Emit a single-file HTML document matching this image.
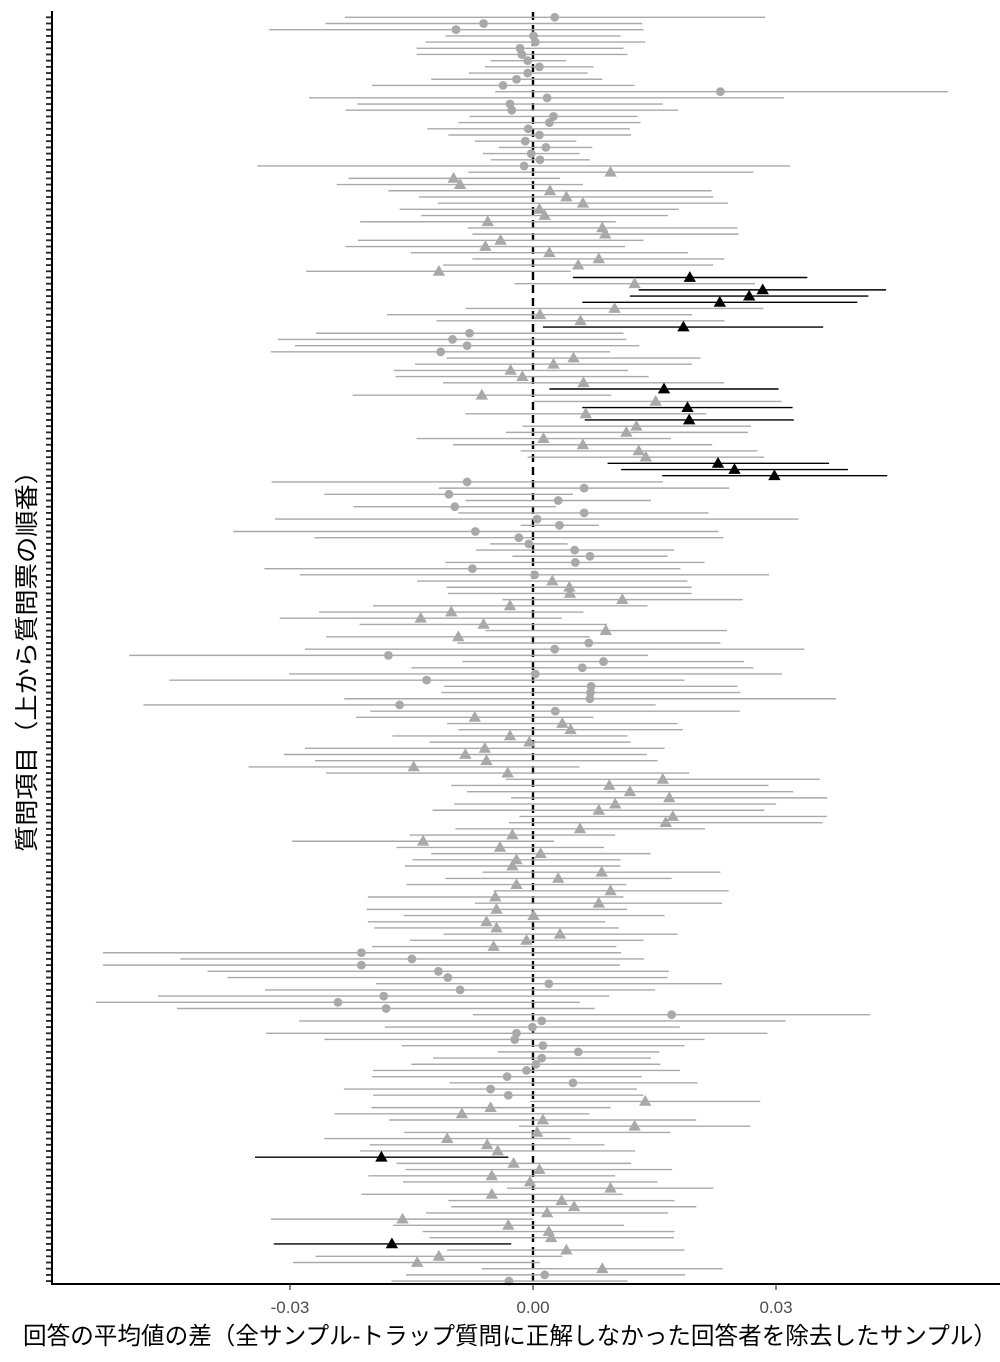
<!DOCTYPE html>
<html><head><meta charset="utf-8">
<style>
html,body{margin:0;padding:0;background:#fff;}
svg{display:block;}
</style></head>
<body>
<svg id="s" width="1000" height="1362" xmlns="http://www.w3.org/2000/svg">
<rect width="1000" height="1362" fill="#fff"/>
<g id="ticks"></g>
<line x1="533" y1="12" x2="533" y2="1284" stroke="#000" stroke-width="2.4" stroke-dasharray="8,5"/>
<g id="bars"></g>
<g id="pts"></g>
<line x1="52" y1="11" x2="52" y2="1285" stroke="#000" stroke-width="2"/>
<line x1="51" y1="1284" x2="1000" y2="1284" stroke="#000" stroke-width="2"/>
<line x1="290" y1="1284" x2="290" y2="1290" stroke="#333" stroke-width="1.2"/>
<line x1="533" y1="1284" x2="533" y2="1290" stroke="#333" stroke-width="1.2"/>
<line x1="776" y1="1284" x2="776" y2="1290" stroke="#333" stroke-width="1.2"/>
<g font-family="'Liberation Sans', sans-serif" font-size="17" fill="#4d4d4d" text-anchor="middle">
<text x="290" y="1313">-0.03</text>
<text x="533" y="1313">0.00</text>
<text x="776" y="1313">0.03</text>
</g>
<text x="510" y="1344" font-family="'Liberation Sans','Noto Sans CJK JP',sans-serif" font-size="24" text-anchor="middle" textLength="974" lengthAdjust="spacingAndGlyphs" fill="#000">回答の平均値の差（全サンプル-トラップ質問に正解しなかった回答者を除去したサンプル）</text>
<text transform="translate(35,655) rotate(-90)" font-family="'Liberation Sans','Noto Sans CJK JP',sans-serif" font-size="24" text-anchor="middle" textLength="394" lengthAdjust="spacingAndGlyphs" fill="#000">質問項目（上から質問票の順番）</text>
</svg>
<script>
var D=[
[519,876,1234,'c'],[486,755,1025,'c'],[390,708,1027,'c'],[690,840,988,'c'],[656,843,1030,'c'],
[641,817,993,'c'],[641,820,1000,'c'],[767,830,895,'c'],[757,850,942,'c'],[730,830,932,'c'],
[666,811,957,'c'],[565,788,1012,'c'],[775,1158,1545,'c'],[458,863,1266,'c'],[540,800,1060,'c'],
[520,803,1086,'c'],[731,874,1017,'c'],[712,867,1022,'c'],[659,831,1004,'c'],[695,850,1006,'c'],
[740,826,913,'c'],[781,861,940,'c'],[754,836,918,'c'],[767,851,936,'c'],[370,824,1277,'c'],
[729,971,1214,'t'],[525,704,885,'t'],[505,715,924,'t'],[593,868,1143,'t'],[645,896,1146,'t'],
[677,924,1171,'t'],[612,850,1087,'t'],[649,859,1069,'t'],[545,762,980,'t'],[728,957,1187,'t'],
[736,962,1189,'t'],[541,784,1027,'t'],[520,758,996,'t'],[631,867,1103,'t'],[736,951,1165,'t'],
[686,916,1146,'t'],[453,679,903,'t'],[907,1106,1306,'T'],[808,1012,1217,'t'],[1019,1230,1440,'T'],
[1004,1207,1410,'T'],[923,1157,1391,'T'],[724,978,1231,'t'],[591,851,1110,'t'],[675,920,1165,'t'],
[856,1095,1333,'T'],[470,731,993,'c'],[405,702,998,'c'],[434,727,1020,'c'],[393,682,970,'c'],
[692,908,1124,'t'],[638,874,1110,'t'],[602,801,1001,'t'],[605,821,1036,'t'],[686,925,1164,'t'],
[867,1062,1257,'T'],[532,752,972,'t'],[840,1048,1262,'t'],[923,1102,1281,'T'],[724,929,1134,'t'],
[927,1105,1283,'T'],[821,1015,1210,'t'],[793,998,1205,'t'],[641,857,1074,'t'],[703,924,1144,'t'],
[818,1019,1221,'t'],[830,1031,1232,'t'],[966,1154,1343,'T'],[989,1182,1375,'T'],[1059,1250,1442,'T'],
[394,727,1060,'c'],[679,926,1173,'c'],[484,696,907,'c'],[724,882,1040,'c'],[534,706,878,'c'],
[712,926,1138,'c'],[400,846,1291,'c'],[818,884,951,'c'],[329,741,1155,'c'],[467,815,1163,'c'],
[766,832,898,'c'],[742,910,1079,'c'],[804,936,1068,'c'],[690,911,1131,'c'],[382,736,1090,'c'],
[442,842,1241,'c'],[642,872,1102,'t'],[692,901,1109,'t'],[694,902,1109,'t'],[787,991,1196,'t'],
[567,800,1034,'t'],[475,700,925,'t'],[408,648,888,'t'],[544,755,965,'t'],[758,963,1169,'t'],
[487,712,936,'t'],[710,934,1158,'c'],[451,876,1301,'c'],[152,593,1035,'c'],[719,959,1198,'c'],
[632,923,1214,'c'],[424,843,1263,'c'],[220,658,1097,'c'],[688,938,1187,'c'],[683,937,1192,'c'],
[518,936,1355,'c'],[176,612,1048,'c'],[562,877,1191,'c'],[538,740,942,'t'],[693,889,1085,'t'],
[712,903,1094,'t'],[600,800,1000,'t'],[663,833,1005,'t'],[451,757,1063,'t'],[415,724,1033,'t'],
[468,760,1051,'t'],[355,636,918,'t'],[487,796,1105,'t'],[793,1060,1327,'t'],[700,969,1240,'t'],
[727,1004,1282,'t'],[802,1071,1340,'t'],[705,979,1253,'t'],[668,951,1233,'t'],[816,1077,1339,'t'],
[798,1065,1332,'t'],[707,919,1132,'t'],[629,804,979,'t'],[429,652,875,'t'],[607,783,960,'t'],
[666,852,1039,'t'],[634,811,988,'t'],[621,804,988,'t'],[753,956,1158,'t'],[690,882,1075,'t'],
[624,811,998,'t'],[772,971,1172,'t'],[558,775,993,'t'],[740,951,1161,'t'],[556,777,999,'t'],
[619,840,1063,'t'],[558,760,962,'t'],[569,777,985,'t'],[687,885,1085,'t'],[630,828,1027,'t'],
[565,772,981,'t'],[107,547,989,'c'],[239,633,1028,'c'],[107,547,987,'c'],[285,678,1070,'c'],
[319,694,1068,'c'],[572,866,1161,'c'],[383,715,1047,'c'],[201,585,969,'c'],[95,507,919,'c'],
[233,589,944,'c'],[737,1075,1413,'c'],[441,854,1269,'c'],[587,838,1089,'c'],[385,811,1238,'c'],
[484,808,1131,'c'],[616,856,1097,'c'],[779,916,1054,'c'],[669,854,1040,'c'],[632,844,1056,'c'],
[567,828,1089,'c'],[565,795,1024,'c'],[697,907,1119,'c'],[517,767,1016,'c'],[567,797,1027,'c'],
[834,1030,1226,'t'],[564,767,971,'t'],[501,718,935,'t'],[594,856,1117,'t'],[815,1012,1209,'t'],
[620,846,1073,'t'],[484,693,903,'t'],[561,761,961,'t'],[545,779,1013,'t'],[366,581,797,'T'],
[607,806,1006,'t'],[622,850,1076,'t'],[559,769,979,'t'],[618,834,1051,'t'],[795,971,1146,'t'],
[547,769,992,'t'],[695,888,1080,'t'],[700,909,1117,'t'],[657,863,1069,'t'],[393,617,840,'t'],
[601,797,994,'t'],[651,866,1080,'t'],[663,870,1079,'t'],[398,599,802,'T'],[693,896,1097,'t'],
[469,679,889,'t'],[431,642,851,'t'],[752,957,1162,'t'],[623,859,1098,'c'],[598,798,1000,'c']
];
function X(z){return 40+z/1.702;}
var bars=document.getElementById('bars'),pts=document.getElementById('pts'),tk=document.getElementById('ticks');
var b='',p='',t='';
for(var i=0;i<D.length;i++){
  var d=D[i],y=(17.3+i*6.195).toFixed(2);
  var blk=d[3]=='T',col=blk?'#000':'#a9a9a9';
  var lo=X(d[0]),cx=X(d[1]),hi=Math.min(X(d[2]),1000);
  b+='<line x1="'+lo.toFixed(1)+'" y1="'+y+'" x2="'+hi.toFixed(1)+'" y2="'+y+'" stroke="'+col+'" stroke-width="1.4"/>';
  if(d[3]=='c'){p+='<circle cx="'+cx.toFixed(1)+'" cy="'+y+'" r="4.4" fill="'+col+'"/>';}
  else{var yy=+y;p+='<polygon points="'+(cx-6.2).toFixed(1)+','+(yy+4.4).toFixed(1)+' '+(cx+6.2).toFixed(1)+','+(yy+4.4).toFixed(1)+' '+cx.toFixed(1)+','+(yy-6.4).toFixed(1)+'" fill="'+col+'"/>';}
  t+='<line x1="46" y1="'+y+'" x2="52" y2="'+y+'" stroke="#222" stroke-width="1.8"/>';
}
bars.innerHTML=b;pts.innerHTML=p;tk.innerHTML=t;
</script>
</body></html>
